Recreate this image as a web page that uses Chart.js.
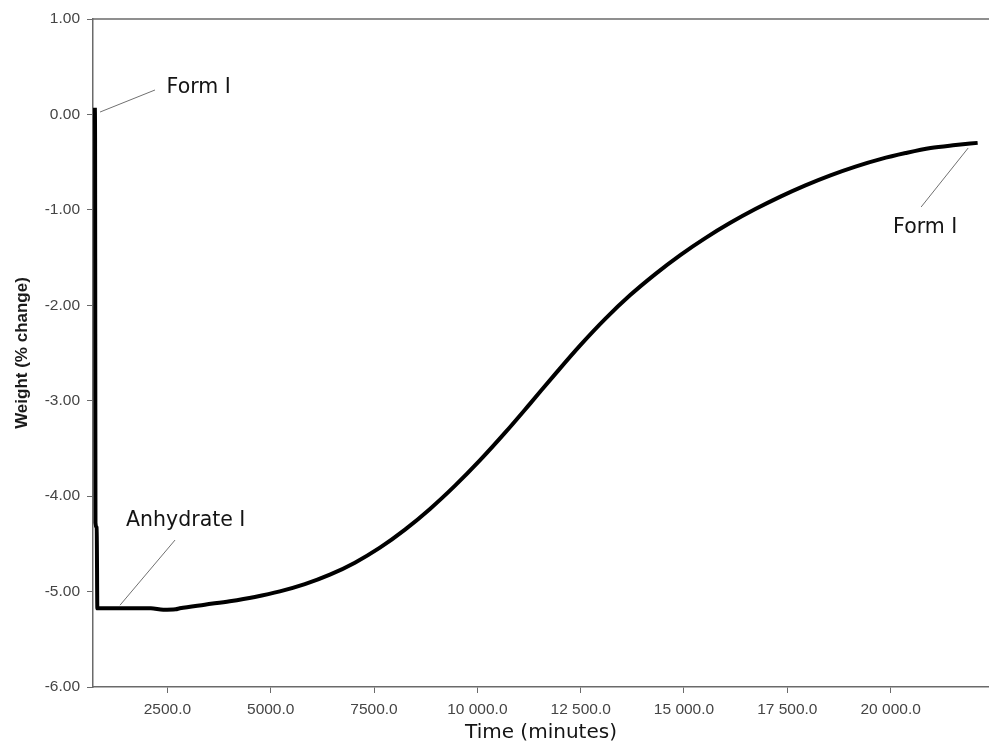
<!DOCTYPE html>
<html>
<head>
<meta charset="utf-8">
<title>Weight change over time</title>
<script src="https://cdn.jsdelivr.net/npm/chart.js@4.4.1/dist/chart.umd.min.js"></script>
<style>
  html, body { margin: 0; padding: 0; background: #ffffff; }
  #wrap { width: 989px; height: 746px; }
</style>
</head>
<body>
<div id="wrap"><canvas id="chart" width="989" height="746"></canvas></div>
<script>
// Time axis (minutes) and measured weight change (%)
const timeMinutes = [
  745, 750, 755, 760, 790, 805,
  2100, 2400, 2700, 2800, 3404, 4009, 4615, 5221, 5826, 6432,
  7037, 7643, 8249, 8854, 9460, 10066, 10671, 11277, 11882,
  12488, 13094, 13699, 14305, 14910, 15516, 16121, 16727, 17333,
  17938, 18544, 19149, 19755, 20361, 20966, 21572, 22105
];
const weightChange = [
  0.07, -0.24, -2.30, -4.28, -4.33, -5.175,
  -5.175, -5.19, -5.185, -5.175, -5.137, -5.101, -5.056, -4.998, -4.922, -4.823,
  -4.697, -4.540, -4.351, -4.134, -3.890, -3.623, -3.335, -3.030, -2.721,
  -2.420, -2.142, -1.893, -1.673, -1.474, -1.296, -1.136, -0.992, -0.861,
  -0.743, -0.638, -0.546, -0.468, -0.405, -0.352, -0.321, -0.298
];

// Axis ticks
const timeTicks = [2500, 5000, 7500, 10000, 12500, 15000, 17500, 20000];
const weightTicks = [1, 0, -1, -2, -3, -4, -5, -6];

// Phase labels: text anchor and leader line, in data units
const phaseLabels = [
  { text: 'Form I',       tx: 2480,  ty: 0.285,  from: [870, 0.025],   to: [2200, 0.256] },
  { text: 'Anhydrate I',  tx: 1500,  ty: -4.262, from: [1353, -5.143], to: [2685, -4.46] },
  { text: 'Form I',       tx: 20060, ty: -1.19,  from: [20738, -0.97], to: [21876, -0.352] }
];

function formatTime(v) {
  const s = v.toFixed(1);
  if (v >= 10000) {
    const [intPart, dec] = s.split('.');
    return intPart.replace(/\B(?=(\d{3})+(?!\d))/g, ' ') + '.' + dec;
  }
  return s;
}

const frameAndLabels = {
  id: 'frameAndLabels',
  afterDatasetsDraw(chart) {
    const { ctx, chartArea, scales } = chart;
    ctx.save();
    // top frame line
    ctx.strokeStyle = '#6a6a6a';
    ctx.lineWidth = 1.5;
    ctx.beginPath();
    ctx.moveTo(chartArea.left, chartArea.top);
    ctx.lineTo(chartArea.right, chartArea.top);
    ctx.stroke();

    // phase labels with leader lines
    ctx.font = '20.5px "DejaVu Sans", sans-serif';
    ctx.fillStyle = '#141414';
    ctx.textAlign = 'left';
    ctx.textBaseline = 'middle';
    phaseLabels.forEach(l => {
      ctx.strokeStyle = '#707070';
      ctx.lineWidth = 1;
      ctx.beginPath();
      ctx.moveTo(scales.x.getPixelForValue(l.from[0]), scales.y.getPixelForValue(l.from[1]));
      ctx.lineTo(scales.x.getPixelForValue(l.to[0]), scales.y.getPixelForValue(l.to[1]));
      ctx.stroke();
      ctx.fillText(l.text, scales.x.getPixelForValue(l.tx), scales.y.getPixelForValue(l.ty));
    });
    ctx.restore();
  }
};

new Chart(document.getElementById('chart'), {
  type: 'line',
  data: {
    datasets: [{
      data: timeMinutes.map((t, i) => ({ x: t, y: weightChange[i] })),
      borderColor: '#000000',
      borderWidth: 4,
      pointRadius: 0,
      cubicInterpolationMode: 'monotone',
      fill: false
    }]
  },
  options: {
    responsive: false,
    devicePixelRatio: 1,
    animation: false,
    layout: { padding: { top: 19, right: 0, left: 0, bottom: 0 } },
    plugins: { legend: { display: false }, tooltip: { enabled: false } },
    scales: {
      x: {
        type: 'linear',
        min: 700,
        max: 22380,
        afterBuildTicks: s => { s.ticks = timeTicks.map(v => ({ value: v })); },
        afterFit: s => { s.height = 59; },
        border: { display: true, color: '#6a6a6a', width: 1.5 },
        grid: { drawOnChartArea: false, drawTicks: true, tickLength: 6, color: '#6a6a6a', tickWidth: 1 },
        ticks: {
          color: '#454545',
          padding: 7,
          maxRotation: 0,
          autoSkip: false,
          font: { family: '"Liberation Sans", Arial, sans-serif', size: 15.5 },
          callback: v => formatTime(v)
        },
        title: {
          display: true,
          text: 'Time (minutes)',
          color: '#141414',
          font: { family: '"DejaVu Sans", sans-serif', size: 20 },
          padding: { top: 0, bottom: 1 }
        }
      },
      y: {
        type: 'linear',
        min: -6,
        max: 1,
        afterBuildTicks: s => { s.ticks = weightTicks.map(v => ({ value: v })); },
        afterFit: s => { s.width = 93; },
        border: { display: true, color: '#6a6a6a', width: 1.5 },
        grid: { drawOnChartArea: false, drawTicks: true, tickLength: 6, color: '#6a6a6a', tickWidth: 1 },
        ticks: {
          color: '#454545',
          padding: 7,
          font: { family: '"Liberation Sans", Arial, sans-serif', size: 15.5 },
          callback: v => Number(v).toFixed(2)
        },
        title: {
          display: true,
          text: 'Weight (% change)',
          color: '#1a1a1a',
          font: { family: '"Liberation Sans", Arial, sans-serif', size: 17, weight: 'bold' },
          padding: { top: 12, bottom: 0 }
        }
      }
    }
  },
  plugins: [frameAndLabels]
});
</script>
</body>
</html>
